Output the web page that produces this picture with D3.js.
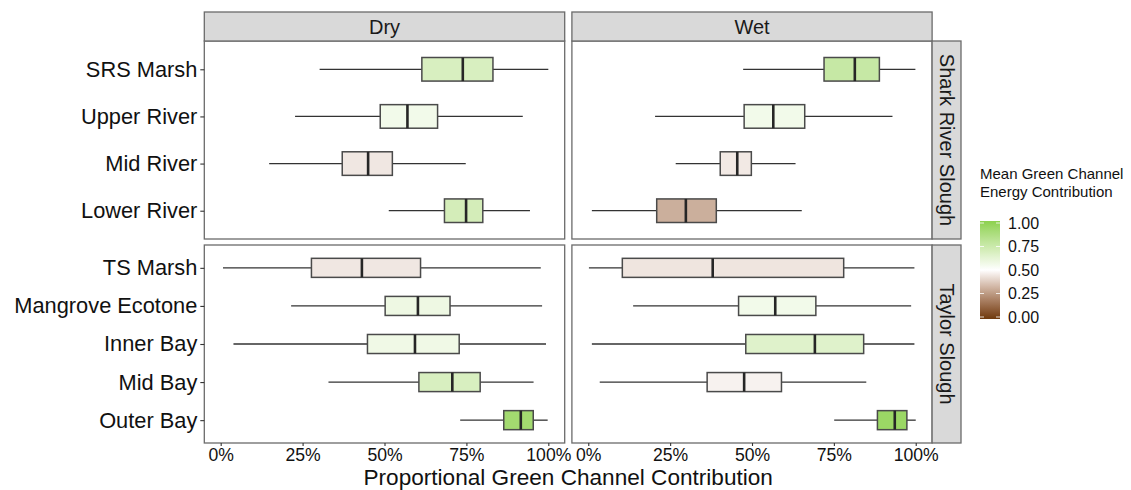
<!DOCTYPE html>
<html>
<head>
<meta charset="utf-8">
<script src="https://cdn.jsdelivr.net/npm/d3@7"></script>
<style>
  body { margin: 0; background: #fff; }
  svg { font-family: "Liberation Sans", Arial, sans-serif; }
</style>
</head>
<body>
<svg id="chart" width="1131" height="490"></svg>
<script>
// sites top to bottom, and the slough each belongs to
const sites = ["SRS Marsh", "Upper River", "Mid River", "Lower River",
  "TS Marsh", "Mangrove Ecotone", "Inner Bay", "Mid Bay", "Outer Bay"];
const siteSlough = ["Shark River Slough", "Shark River Slough", "Shark River Slough", "Shark River Slough",
  "Taylor Slough", "Taylor Slough", "Taylor Slough", "Taylor Slough", "Taylor Slough"];
const sloughs = ["Shark River Slough", "Taylor Slough"];
const seasons = ["Dry", "Wet"];

// boxplot stats (proportion)
const dryLow    = [0.302, 0.227, 0.148, 0.513, 0.007, 0.215, 0.039, 0.329, 0.731];
const dryQ1     = [0.614, 0.487, 0.371, 0.683, 0.277, 0.502, 0.448, 0.605, 0.864];
const dryMedian = [0.739, 0.570, 0.450, 0.749, 0.431, 0.602, 0.593, 0.707, 0.916];
const dryQ3     = [0.831, 0.662, 0.524, 0.800, 0.610, 0.700, 0.728, 0.792, 0.954];
const dryHigh   = [1.000, 0.922, 0.748, 0.944, 0.977, 0.981, 0.993, 0.955, 0.998];
const dryMean   = [0.68, 0.56, 0.445, 0.70, 0.445, 0.58, 0.57, 0.68, 0.91];

const wetLow    = [0.473, 0.204, 0.267, 0.011, 0.002, 0.137, 0.011, 0.035, 0.751];
const wetQ1     = [0.720, 0.476, 0.403, 0.209, 0.104, 0.459, 0.481, 0.363, 0.883];
const wetMedian = [0.814, 0.565, 0.455, 0.298, 0.380, 0.571, 0.692, 0.476, 0.936];
const wetQ3     = [0.889, 0.661, 0.498, 0.391, 0.780, 0.695, 0.841, 0.590, 0.973];
const wetHigh   = [0.999, 0.929, 0.633, 0.652, 0.996, 0.986, 0.996, 0.849, 1.000];
const wetMean   = [0.76, 0.56, 0.45, 0.31, 0.44, 0.56, 0.65, 0.47, 0.94];

const xTicks = [0, 0.25, 0.5, 0.75, 1];
const legendTicks = [0, 0.25, 0.5, 0.75, 1];

const stats = {
  Dry: [dryLow, dryQ1, dryMedian, dryQ3, dryHigh, dryMean],
  Wet: [wetLow, wetQ1, wetMedian, wetQ3, wetHigh, wetMean]
};

var rows = [];
seasons.forEach(function (s) {
  var st = stats[s];
  sites.forEach(function (site, i) {
    rows.push({
      season: s, site: site, slough: siteSlough[i],
      lo: st[0][i], q1: st[1][i], med: st[2][i], q3: st[3][i], hi: st[4][i], mean: st[5][i]
    });
  });
});

const svg = d3.select("#chart");
svg.append("rect").attr("width", 1131).attr("height", 490).attr("fill", "#fff");

// panel layout
const colRange = { Dry: [204.3, 564.7], Wet: [571.9, 932.1] };
const rowRange = { "Shark River Slough": [41, 239], "Taylor Slough": [245, 443] };
const stripTop = 12, stripRight = 961;
const borderCol = "#6b6b6b";

const color = d3.scaleLinear()
  .domain([0, 0.5, 1])
  .range(["#6f390c", "#ffffff", "#8cd14e"])
  .interpolate(d3.interpolateLab);

var xScales = {}, yScales = {};
seasons.forEach(function (s) {
  xScales[s] = d3.scaleLinear().domain([-0.05, 1.05]).range(colRange[s]);
});
sloughs.forEach(function (sl) {
  yScales[sl] = d3.scalePoint()
    .domain(sites.filter(function (d, i) { return siteSlough[i] == sl; }))
    .range(rowRange[sl])
    .padding(0.6);
});

// panels
seasons.forEach(function (s) {
  sloughs.forEach(function (sl) {
    var x = xScales[s], y = yScales[sl];
    var g = svg.append("g");
    var band = y.step() * 0.5;

    g.append("rect")
      .attr("x", colRange[s][0]).attr("y", rowRange[sl][0])
      .attr("width", colRange[s][1] - colRange[s][0])
      .attr("height", rowRange[sl][1] - rowRange[sl][0])
      .attr("fill", "#fff");

    var data = rows.filter(function (r) { return r.season == s && r.slough == sl; });
    var box = g.selectAll("g.box").data(data).enter().append("g").attr("class", "box");

    box.append("line")
      .attr("x1", function (d) { return x(d.lo); })
      .attr("x2", function (d) { return x(d.q1); })
      .attr("y1", function (d) { return y(d.site); })
      .attr("y2", function (d) { return y(d.site); })
      .attr("stroke", "#333").attr("stroke-width", 1.3);
    box.append("line")
      .attr("x1", function (d) { return x(d.q3); })
      .attr("x2", function (d) { return x(d.hi); })
      .attr("y1", function (d) { return y(d.site); })
      .attr("y2", function (d) { return y(d.site); })
      .attr("stroke", "#333").attr("stroke-width", 1.3);
    box.append("rect")
      .attr("x", function (d) { return x(d.q1); })
      .attr("width", function (d) { return x(d.q3) - x(d.q1); })
      .attr("y", function (d) { return y(d.site) - band / 2; })
      .attr("height", band)
      .attr("fill", function (d) { return color(d.mean); })
      .attr("stroke", "#4a4a4a").attr("stroke-width", 1.5);
    box.append("line")
      .attr("x1", function (d) { return x(d.med); })
      .attr("x2", function (d) { return x(d.med); })
      .attr("y1", function (d) { return y(d.site) - band / 2; })
      .attr("y2", function (d) { return y(d.site) + band / 2; })
      .attr("stroke", "#262626").attr("stroke-width", 2.6);

    g.append("rect")
      .attr("x", colRange[s][0]).attr("y", rowRange[sl][0])
      .attr("width", colRange[s][1] - colRange[s][0])
      .attr("height", rowRange[sl][1] - rowRange[sl][0])
      .attr("fill", "none").attr("stroke", borderCol).attr("stroke-width", 1.3);
  });
});

// top strips
seasons.forEach(function (s) {
  var x0 = colRange[s][0], x1 = colRange[s][1];
  svg.append("rect")
    .attr("x", x0).attr("y", stripTop).attr("width", x1 - x0).attr("height", rowRange["Shark River Slough"][0] - stripTop)
    .attr("fill", "#d9d9d9").attr("stroke", borderCol).attr("stroke-width", 1.3);
  svg.append("text")
    .attr("x", (x0 + x1) / 2).attr("y", (stripTop + rowRange["Shark River Slough"][0]) / 2)
    .attr("text-anchor", "middle").attr("dominant-baseline", "central")
    .attr("font-size", 20).attr("fill", "#1a1a1a")
    .text(s);
});

// right strips
sloughs.forEach(function (sl) {
  var y0 = rowRange[sl][0], y1 = rowRange[sl][1];
  var x0 = colRange.Wet[1];
  svg.append("rect")
    .attr("x", x0).attr("y", y0).attr("width", stripRight - x0).attr("height", y1 - y0)
    .attr("fill", "#d9d9d9").attr("stroke", borderCol).attr("stroke-width", 1.3);
  svg.append("text")
    .attr("transform", "translate(" + ((x0 + stripRight) / 2) + "," + ((y0 + y1) / 2) + ") rotate(90)")
    .attr("text-anchor", "middle").attr("dominant-baseline", "central")
    .attr("font-size", 20).attr("fill", "#1a1a1a")
    .text(sl);
});

// y axes (left column only)
sloughs.forEach(function (sl) {
  var ax = svg.append("g")
    .attr("transform", "translate(" + colRange.Dry[0] + ",0)")
    .call(d3.axisLeft(yScales[sl]).tickSize(4).tickPadding(3));
  ax.select(".domain").remove();
  ax.selectAll(".tick line").attr("stroke", "#333").attr("stroke-width", 1.1);
  ax.selectAll(".tick text")
    .attr("font-size", 21.8).attr("fill", "#111")
    .attr("font-family", "Liberation Sans, Arial, sans-serif");
});

// x axes
seasons.forEach(function (s) {
  var ax = svg.append("g")
    .attr("transform", "translate(0," + rowRange["Taylor Slough"][1] + ")")
    .call(d3.axisBottom(xScales[s]).tickValues(xTicks).tickFormat(d3.format(".0%")).tickSize(3).tickPadding(3));
  ax.select(".domain").remove();
  ax.selectAll(".tick line").attr("stroke", "#333").attr("stroke-width", 1.1);
  ax.selectAll(".tick text")
    .attr("font-size", 17.6).attr("fill", "#111")
    .attr("font-family", "Liberation Sans, Arial, sans-serif");
});

svg.append("text")
  .attr("x", (colRange.Dry[0] + colRange.Wet[1]) / 2).attr("y", 485)
  .attr("text-anchor", "middle").attr("font-size", 22.6).attr("fill", "#111")
  .text("Proportional Green Channel Contribution");

// legend
const legX = 980, legW = 20;
const legY = d3.scaleLinear().domain([0, 1]).range([317, 223]);

const grad = svg.append("defs").append("linearGradient")
  .attr("id", "legGrad").attr("x1", 0).attr("y1", 1).attr("x2", 0).attr("y2", 0);
d3.range(0, 1.0001, 0.05).forEach(function (t) {
  grad.append("stop").attr("offset", t).attr("stop-color", color(t));
});

svg.append("text").attr("x", legX).attr("y", 179)
  .attr("font-size", 15).attr("fill", "#111").text("Mean Green Channel");
svg.append("text").attr("x", legX).attr("y", 197)
  .attr("font-size", 15).attr("fill", "#111").text("Energy Contribution");

svg.append("rect")
  .attr("x", legX).attr("y", legY(1) - 2).attr("width", legW).attr("height", legY(0) - legY(1) + 4)
  .attr("fill", "url(#legGrad)");

legendTicks.forEach(function (v) {
  svg.append("line")
    .attr("x1", legX).attr("x2", legX + 4).attr("y1", legY(v)).attr("y2", legY(v))
    .attr("stroke", "#fff").attr("stroke-width", 0.8);
  svg.append("line")
    .attr("x1", legX + legW - 4).attr("x2", legX + legW).attr("y1", legY(v)).attr("y2", legY(v))
    .attr("stroke", "#fff").attr("stroke-width", 0.8);
  svg.append("text")
    .attr("x", legX + 28).attr("y", legY(v))
    .attr("dominant-baseline", "central")
    .attr("font-size", 16).attr("fill", "#111")
    .text(d3.format(".2f")(v));
});
</script>
</body>
</html>
